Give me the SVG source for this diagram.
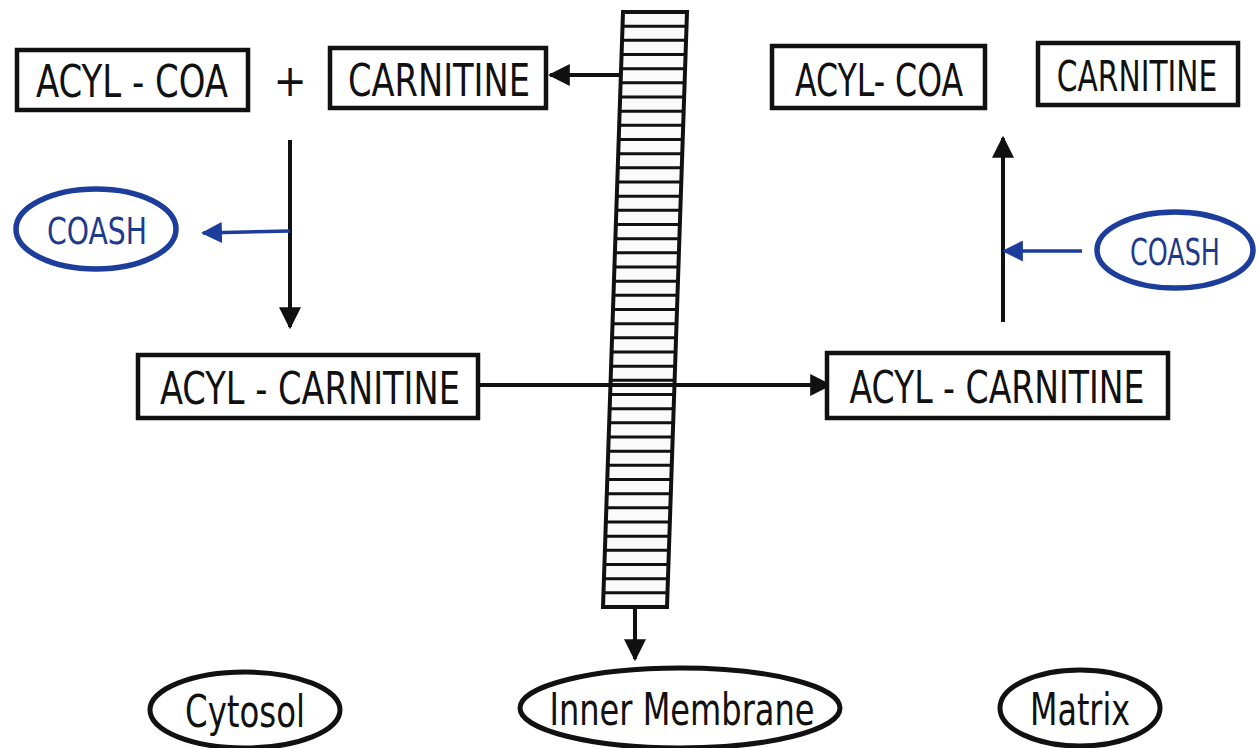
<svg xmlns="http://www.w3.org/2000/svg" width="1259" height="748" viewBox="0 0 1259 748">
<style>
.box{fill:#fff;stroke:#111;stroke-width:4.5}
.ell{fill:#fff;stroke:#111;stroke-width:5}
.bell{fill:#fff;stroke:#1c3d9c;stroke-width:5.5}
.t{font-family:"DejaVu Sans Condensed","Liberation Sans",sans-serif;fill:#111;font-size:44px}
.t2{font-family:"DejaVu Sans Condensed","Liberation Sans",sans-serif;fill:#111;font-size:33px}
.bt{font-family:"DejaVu Sans Condensed","Liberation Sans",sans-serif;fill:#1f3a8a;font-size:38px}
.con{fill:none;stroke:#111;stroke-width:4}
.bcon{fill:none;stroke:#1c3d9c;stroke-width:3.5}
</style>
<defs>
<marker id="ah" viewBox="0 0 10 10" refX="9" refY="5" markerWidth="5.5" markerHeight="5.5" orient="auto" markerUnits="strokeWidth"><path d="M0,0 L10,5 L0,10 Z" fill="#111"/></marker>
<marker id="bh" viewBox="0 0 10 10" refX="9" refY="5" markerWidth="6" markerHeight="6" orient="auto" markerUnits="strokeWidth"><path d="M0,0 L10,5 L0,10 Z" fill="#1c3d9c"/></marker>
</defs>
<rect width="1259" height="748" fill="#fff"/>

<g id="connectors">
<line class="con" x1="622" y1="75" x2="550" y2="75" marker-end="url(#ah)"/>
<line class="con" x1="290" y1="140" x2="290" y2="327" marker-end="url(#ah)"/>
<line class="bcon" x1="290" y1="231" x2="203" y2="233" marker-end="url(#bh)"/>
<line class="con" x1="1003" y1="322" x2="1003" y2="138" marker-end="url(#ah)"/>
<line class="bcon" x1="1082" y1="251" x2="1004" y2="251" marker-end="url(#bh)"/>
<line class="con" x1="478" y1="385" x2="830" y2="385" marker-end="url(#ah)"/>
<line class="con" x1="635" y1="607" x2="635" y2="659" marker-end="url(#ah)"/>
</g>

<g id="membrane" transform="translate(623,12) skewX(-1.925)">
<rect x="0" y="0" width="64" height="595" fill="#fafafa" stroke="#111" stroke-width="4"/>
<path fill="none" stroke="#111" stroke-width="3" d="M0,14.2H64M0,28.3H64M0,42.5H64M0,56.7H64M0,70.8H64M0,85H64M0,99.2H64M0,113.3H64M0,127.5H64M0,141.7H64M0,155.8H64M0,170H64M0,184.2H64M0,198.3H64M0,212.5H64M0,226.7H64M0,240.8H64M0,255H64M0,269.2H64M0,283.3H64M0,297.5H64M0,311.7H64M0,325.8H64M0,340H64M0,354.2H64M0,368.3H64M0,382.5H64M0,396.7H64M0,410.8H64M0,425H64M0,439.2H64M0,453.3H64M0,467.5H64M0,481.7H64M0,495.8H64M0,510H64M0,524.2H64M0,538.3H64M0,552.5H64M0,566.7H64M0,580.8H64"/>
</g>
<line class="con" x1="600" y1="385" x2="690" y2="385"/>

<g id="acylcoa-left">
<rect class="box" x="17" y="50" width="231" height="60"/>
<text class="t" x="132" y="97" text-anchor="middle" textLength="192" lengthAdjust="spacingAndGlyphs">ACYL - COA</text>
</g>
<g id="plus"><text class="t" x="290" y="96" text-anchor="middle">+</text></g>
<g id="carnitine-left">
<rect class="box" x="330" y="48" width="216" height="60"/>
<text class="t" x="439" y="96" text-anchor="middle" textLength="182" lengthAdjust="spacingAndGlyphs">CARNITINE</text>
</g>
<g id="acylcoa-right">
<rect class="box" x="772" y="46" width="213" height="62"/>
<text class="t" x="879" y="96" text-anchor="middle" textLength="168" lengthAdjust="spacingAndGlyphs">ACYL- COA</text>
</g>
<g id="carnitine-right">
<rect class="box" x="1038" y="43" width="200" height="62"/>
<text class="t2" transform="translate(1137,91) scale(1,1.3)" x="0" y="0" text-anchor="middle">CARNITINE</text>
</g>
<g id="coash-left">
<ellipse class="bell" cx="96" cy="229" rx="80" ry="40"/>
<text class="bt" x="97" y="244" text-anchor="middle" textLength="100" lengthAdjust="spacingAndGlyphs">COASH</text>
</g>
<g id="coash-right">
<ellipse class="bell" cx="1175" cy="250" rx="78" ry="38"/>
<text class="bt" x="1175" y="265" text-anchor="middle" textLength="90" lengthAdjust="spacingAndGlyphs">COASH</text>
</g>
<g id="acylcarnitine-left">
<rect class="box" x="138" y="355" width="340" height="63"/>
<text class="t" x="310" y="404" text-anchor="middle" textLength="300" lengthAdjust="spacingAndGlyphs">ACYL - CARNITINE</text>
</g>
<g id="acylcarnitine-right">
<rect class="box" x="827" y="353" width="341" height="65"/>
<text class="t" x="997" y="403" text-anchor="middle" textLength="295" lengthAdjust="spacingAndGlyphs">ACYL - CARNITINE</text>
</g>
<g id="cytosol">
<ellipse class="ell" cx="245" cy="710" rx="95" ry="38"/>
<text class="t" x="245" y="727" text-anchor="middle" textLength="120" lengthAdjust="spacingAndGlyphs">Cytosol</text>
</g>
<g id="inner-membrane">
<ellipse class="ell" cx="680" cy="708" rx="160" ry="40"/>
<text class="t" x="682" y="725" text-anchor="middle" textLength="265" lengthAdjust="spacingAndGlyphs">Inner Membrane</text>
</g>
<g id="matrix">
<ellipse class="ell" cx="1080" cy="708" rx="80" ry="38"/>
<text class="t" x="1080" y="725" text-anchor="middle" textLength="100" lengthAdjust="spacingAndGlyphs">Matrix</text>
</g>
</svg>
